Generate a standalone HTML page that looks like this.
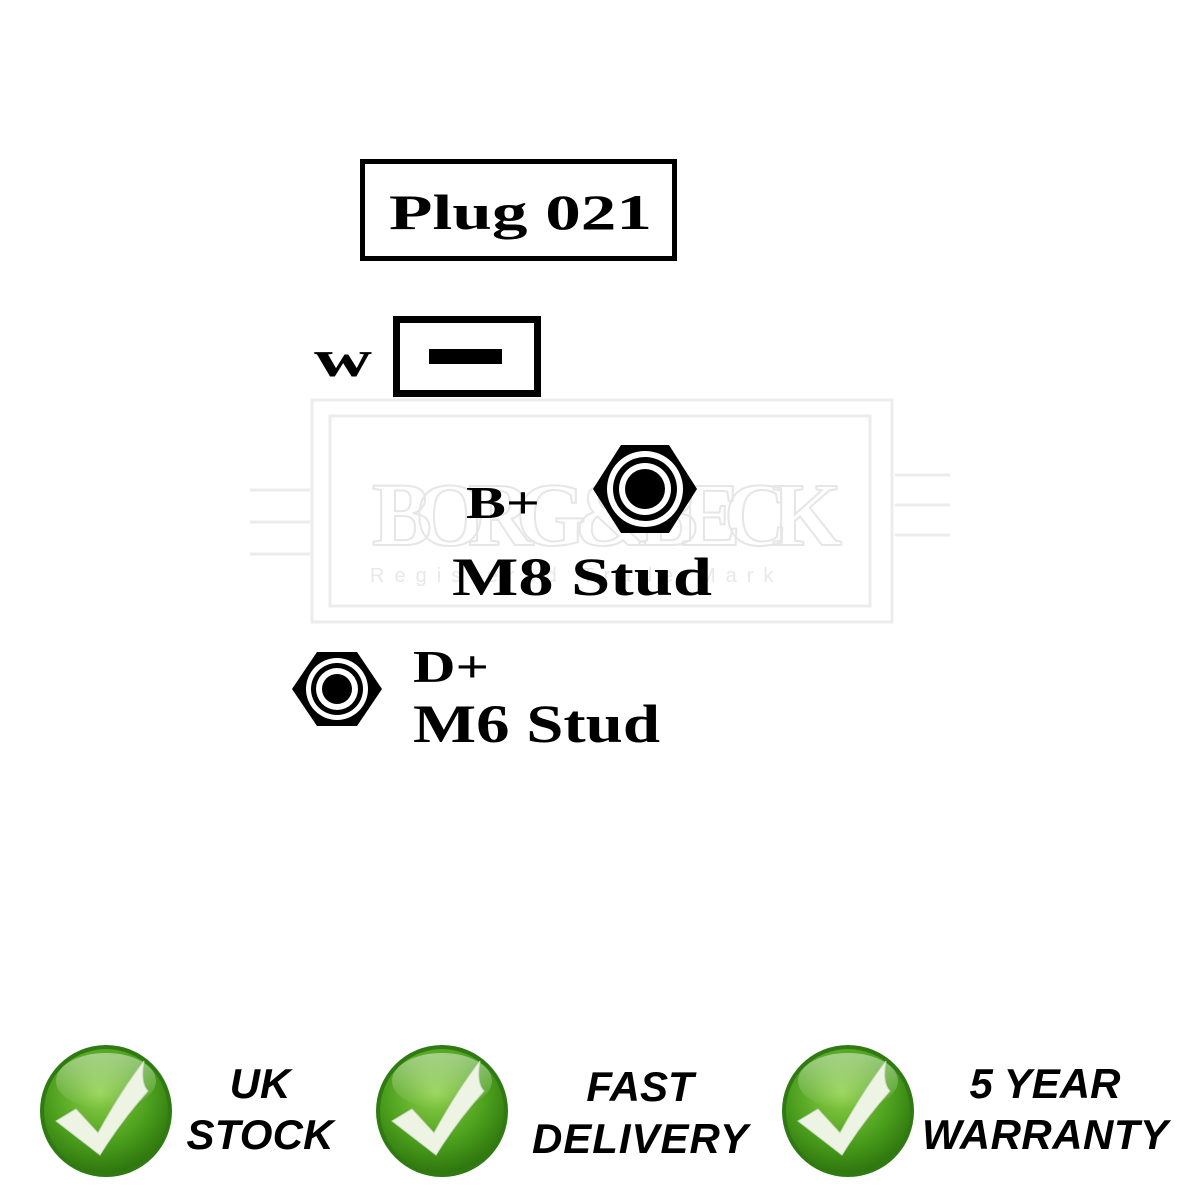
<!DOCTYPE html>
<html><head><meta charset="utf-8"><style>
html,body{margin:0;padding:0;background:#fff;}
svg{display:block;}
.s{font-family:"Liberation Serif",serif;font-weight:bold;fill:#000;}
.b{font-family:"Liberation Sans",sans-serif;font-weight:bold;font-style:italic;fill:#000;text-anchor:middle;font-size:42px;}
</style></head><body>
<svg width="1200" height="1200" viewBox="0 0 1200 1200">
<defs>
<radialGradient id="g" cx="0.45" cy="0.35" r="0.7">
<stop offset="0" stop-color="#8fd14a"/><stop offset="0.6" stop-color="#4a9e1c"/><stop offset="1" stop-color="#2a6e0c"/>
</radialGradient>
<linearGradient id="sh" x1="0" y1="0" x2="0" y2="1">
<stop offset="0" stop-color="#fff" stop-opacity="0.45"/><stop offset="1" stop-color="#fff" stop-opacity="0"/>
</linearGradient>
<g id="chk">
<circle r="66" fill="#2f7a12"/>
<circle r="62" fill="url(#g)"/>
<ellipse cx="0" cy="-30" rx="50" ry="28" fill="url(#sh)"/>
<path d="M-50,10 L-30,-2 L-8,22 Q15,-20 38,-50 Q34,-28 42,-20 Q15,10 -6,44 Z" fill="#eef4e4" stroke="#cfd9c2" stroke-width="1"/>
</g>
</defs>
<!-- watermark -->
<g fill="none" stroke="#ececec" stroke-width="3">
<rect x="312" y="400" width="580" height="222"/>
<rect x="330" y="416" width="540" height="190"/>
<line x1="250" y1="490" x2="310" y2="490"/><line x1="250" y1="522" x2="310" y2="522"/><line x1="250" y1="554" x2="310" y2="554"/>
<line x1="895" y1="475" x2="950" y2="475"/><line x1="895" y1="505" x2="950" y2="505"/><line x1="895" y1="535" x2="950" y2="535"/>
</g>
<text x="372" y="545" font-family="Liberation Serif,serif" font-weight="bold" font-size="90" fill="none" stroke="#e6e6e6" stroke-width="2" textLength="470">BORG &amp; BECK</text>
<text x="370" y="582" font-family="Liberation Sans,sans-serif" font-size="20" fill="#e8e8e8" letter-spacing="10">Registered Trade Mark</text>
<!-- Plug box -->
<rect x="362.5" y="161.5" width="312" height="97" fill="none" stroke="#000" stroke-width="5"/>
<text class="s" x="389" y="229" font-size="50" textLength="263" lengthAdjust="spacingAndGlyphs">Plug 021</text>
<!-- W -->
<text class="s" x="314" y="376" font-size="52" textLength="58" lengthAdjust="spacingAndGlyphs">w</text>
<rect x="396.5" y="319.5" width="141" height="74" fill="none" stroke="#000" stroke-width="7"/>
<rect x="429" y="349" width="73" height="15" fill="#000"/>
<!-- B+ -->
<text class="s" x="466" y="518" font-size="46" textLength="74" lengthAdjust="spacingAndGlyphs">B+</text>
<g transform="translate(645,489)">
<polygon points="-24,-44 24,-44 52,0 24,44 -24,44 -52,0" fill="#000"/>
<circle r="38" fill="#fff"/>
<circle r="32" fill="#000"/>
<circle r="26" fill="#fff"/>
<circle r="20" fill="#000"/>
</g>
<text class="s" x="452" y="595" font-size="54" textLength="260" lengthAdjust="spacingAndGlyphs">M8 Stud</text>
<!-- D+ -->
<g transform="translate(337,689)">
<polygon points="-20,-37 20,-37 45,0 20,37 -20,37 -45,0" fill="#000"/>
<circle r="31" fill="#fff"/>
<circle r="26" fill="#000"/>
<circle r="21" fill="#fff"/>
<circle r="15" fill="#000"/>
</g>
<text class="s" x="413" y="682" font-size="46" textLength="76" lengthAdjust="spacingAndGlyphs">D+</text>
<text class="s" x="413" y="742" font-size="54" textLength="247" lengthAdjust="spacingAndGlyphs">M6 Stud</text>
<!-- badges -->
<use href="#chk" x="106" y="1111"/>
<use href="#chk" x="442" y="1111"/>
<use href="#chk" x="848" y="1111"/>
<text class="b" x="260" y="1098">UK</text>
<text class="b" x="260" y="1149" textLength="147">STOCK</text>
<text class="b" x="640" y="1101">FAST</text>
<text class="b" x="640" y="1153" textLength="216">DELIVERY</text>
<text class="b" x="1045" y="1098">5 YEAR</text>
<text class="b" x="1045" y="1149" textLength="246">WARRANTY</text>
</svg>
</body></html>
